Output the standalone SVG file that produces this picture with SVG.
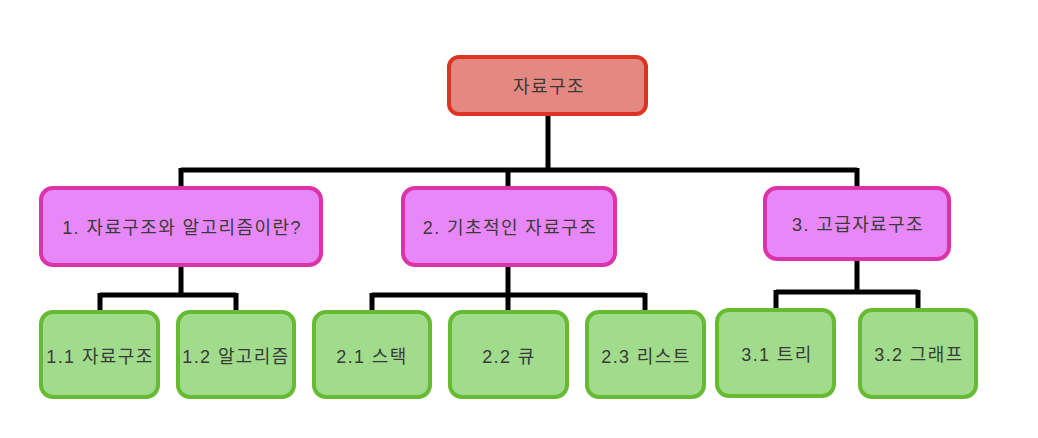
<svg xmlns="http://www.w3.org/2000/svg" width="1038" height="438" viewBox="0 0 1038 438">
<style>
.root rect{fill:#E48882;stroke:#DD3322;stroke-width:4}
.mid rect{fill:#E888F8;stroke:#DD33AA;stroke-width:4}
.leaf rect{fill:#A0DC8C;stroke:#66BB33;stroke-width:4}
text{font-family:"Liberation Sans","Noto Sans CJK KR",sans-serif;font-size:18px;letter-spacing:1.4px;fill:#3a3a3a;text-anchor:middle;dominant-baseline:central}
.conn path{fill:none;stroke:#000;stroke-width:5}
</style>
<rect width="1038" height="438" fill="#fff"/>
<g class="conn">
<path d="M548 116V170M181 170H857M181 168V188M508 168V188M857 168V188"/>
<path d="M181 265V295M100 295H236M100 293V312M236 293V312"/>
<path d="M508 265V295M372 295H645M372 293V312M508 293V312M645 293V312"/>
<path d="M857 259V292M776 292H918M776 290V310M918 290V310"/>
</g>
<g id="root" class="root"><rect x="449" y="57" width="197" height="57" rx="10"/><text x="549" y="87">자료구조</text></g>
<g id="n1" class="mid"><rect x="41" y="188" width="280" height="77" rx="12"/><text x="182" y="228">1. 자료구조와 알고리즘이란?</text></g>
<g id="n2" class="mid"><rect x="403" y="188" width="212" height="77" rx="12"/><text x="510" y="228">2. 기초적인 자료구조</text></g>
<g id="n3" class="mid"><rect x="765" y="188" width="184" height="71" rx="12"/><text x="858" y="225">3. 고급자료구조</text></g>
<g id="n11" class="leaf"><rect x="41" y="312" width="117" height="85" rx="12"/><text x="100" y="357">1.1 자료구조</text></g>
<g id="n12" class="leaf"><rect x="178" y="312" width="116" height="85" rx="12"/><text x="236" y="357">1.2 알고리즘</text></g>
<g id="n21" class="leaf"><rect x="314" y="312" width="116" height="85" rx="12"/><text x="372" y="357">2.1 스택</text></g>
<g id="n22" class="leaf"><rect x="450" y="312" width="117" height="85" rx="12"/><text x="509" y="357">2.2 큐</text></g>
<g id="n23" class="leaf"><rect x="587" y="312" width="117" height="85" rx="12"/><text x="646" y="357">2.3 리스트</text></g>
<g id="n31" class="leaf"><rect x="717" y="310" width="117" height="86" rx="12"/><text x="777" y="355">3.1 트리</text></g>
<g id="n32" class="leaf"><rect x="860" y="310" width="116" height="87" rx="12"/><text x="919" y="355">3.2 그래프</text></g>
</svg>
